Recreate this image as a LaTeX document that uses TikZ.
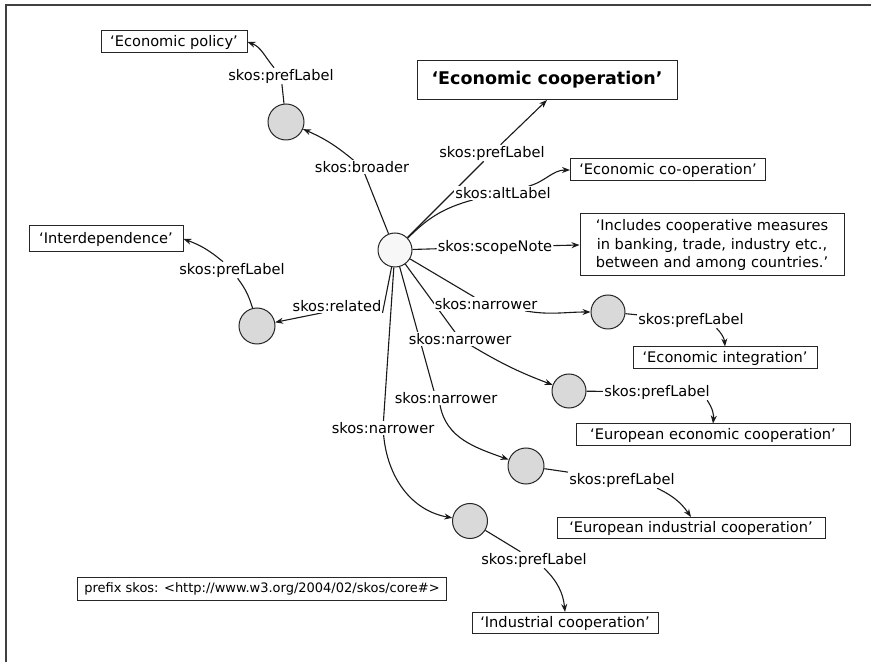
\documentclass[tikz,border=0pt]{standalone}
\usepackage{fontspec}
\setmainfont{DejaVu Sans}
\usetikzlibrary{arrows.meta,backgrounds}
\begin{document}
\begin{tikzpicture}[x=1pt,y=1pt,
 lbl/.style={font=\fontsize{14.6}{17}\selectfont, inner sep=1pt, fill=white},
 lit/.style={draw=black!85, line width=1pt, fill=white, font=\fontsize{14.6}{17}\selectfont, inner xsep=4pt, inner ysep=2pt, minimum height=22pt},
 res/.style={circle, draw=black!85, line width=1pt, fill=gray!30, minimum size=36pt, inner sep=0pt},
 edge/.style={line width=1.1pt, draw=black!90},
 arr/.style={edge, -{Stealth[length=8pt,width=6pt]}},
 frame/.style={line width=1.6pt, draw=black!75}
]
\useasboundingbox (0,0) rectangle (871,662);
\coordinate (fTL) at (6,657);
\coordinate (fTR) at (871,657);
\coordinate (fBL) at (6,0);
\draw[frame] (fTR) -- (fTL) -- (fBL);

% resources
\node[res, fill=gray!6, minimum size=34pt] (C) at (395,412) {};
\node[res] (B) at (286,540) {};
\node[res] (R) at (257,336) {};
\node[res, minimum size=34pt] (N1) at (608,350) {};
\node[res, minimum size=34pt] (N2) at (569,271) {};
\node[res] (N3) at (526,196) {};
\node[res, minimum size=35pt] (N4) at (470,141) {};

% literals
\node[lit, minimum width=146pt] (EP) at (174,620) {‘Economic policy’};
\node[lit, minimum width=260pt, minimum height=39pt, font=\fontsize{17.5}{20}\selectfont\bfseries] (EC) at (547,582) {‘Economic cooperation’};
\node[lit, minimum width=195pt] (ECO) at (668,492) {‘Economic co-operation’};
\node[lit, minimum width=264pt, minimum height=62pt, align=center, font=\fontsize{14.6}{18.5}\selectfont] (SN) at (712,417) {‘Includes cooperative measures\\in banking, trade, industry etc.,\\between and among countries.’};
\node[lit, minimum width=154pt, minimum height=26pt] (ID) at (106,423) {‘Interdependence’};
\node[lit, minimum width=184pt] (EI) at (725,304) {‘Economic integration’};
\node[lit, minimum width=274pt] (EEC) at (713,227) {‘European economic cooperation’};
\node[lit, minimum width=268pt, minimum height=21pt] (EIC) at (691,134) {‘European industrial cooperation’};
\node[lit, minimum width=186pt, minimum height=21pt] (IC) at (565,39) {‘Industrial cooperation’};
\node[lit, minimum width=369pt, minimum height=23pt, font=\fontsize{13}{15}\selectfont] (PF) at (262,73) {prefix skos: <http://www.w3.org/2004/02/skos/core\#>};

% edge labels
\node[lbl] (lEP) at (281,586) {skos:prefLabel};
\node[lbl] (lBR) at (362,495) {skos:broader};
\node[lbl] (lEC) at (492,509) {skos:prefLabel};
\node[lbl] (lALT) at (503,469) {skos:altLabel};
\node[lbl] (lSN) at (495,415) {skos:scopeNote};
\node[lbl] (lID) at (232,392) {skos:prefLabel};
\node[lbl] (lREL) at (337,356) {skos:related};
\node[lbl] (lN1) at (486,358) {skos:narrower};
\node[lbl] (lP1) at (691,342) {skos:prefLabel};
\node[lbl] (lN2) at (460,323) {skos:narrower};
\node[lbl] (lP2) at (657,270) {skos:prefLabel};
\node[lbl] (lN3) at (446,264) {skos:narrower};
\node[lbl] (lN4) at (383,234) {skos:narrower};
\node[lbl] (lP3) at (622,182) {skos:prefLabel};
\node[lbl] (lP4) at (534,102) {skos:prefLabel};

\begin{scope}[on background layer]
\draw[edge] (C) -- (lBR);
\draw[arr] (lBR) to[bend right=8] (B);
\draw[edge] (B) -- (lEP);
\draw[arr] (lEP) to[out=130,in=-20] (EP.east);
\draw[edge] (C) -- (lEC);
\draw[arr] (lEC) -- (EC.south);
\draw[edge] (C) to[bend left=15] (lALT);
\draw[arr] (lALT) to[out=15,in=180] (ECO.west);
\draw[edge] (C) -- (lSN);
\draw[arr] (lSN) -- (SN.west);
\draw[edge] (C) -- (lREL.south east);
\draw[arr] ([xshift=-15pt]lREL.south) -- (R);
\draw[edge] (R) to[bend right=10] (lID);
\draw[arr] (lID) to[bend right=10] (ID.east);
\draw[edge] (C) -- (lN1);
\draw[arr] (lN1) to[out=-10,in=180] (N1);
\draw[edge] (N1) -- (lP1);
\draw[arr] (lP1) to[bend left=20] (EI.north);
\draw[edge] (C) -- (lN2);
\draw[arr] (lN2) to[bend right=5] (N2);
\draw[edge] (N2) -- (lP2);
\draw[arr] (lP2) to[bend left=20] (EEC.north);
\draw[edge] (C) -- ([xshift=-12pt]lN3.north);
\draw[arr] ([xshift=-6pt]lN3.south) to[out=-80,in=160] (N3);
\draw[edge] (C) -- (lN4);
\draw[arr] (lN4) to[out=-85,in=170] (N4);
\draw[edge] (N3) -- (lP3);
\draw[arr] (lP3) to[bend left=15] (EIC.north);
\draw[edge] (N4) -- (lP4);
\draw[arr] (lP4) to[bend left=20] (IC.north);
\end{scope}
\end{tikzpicture}
\end{document}
